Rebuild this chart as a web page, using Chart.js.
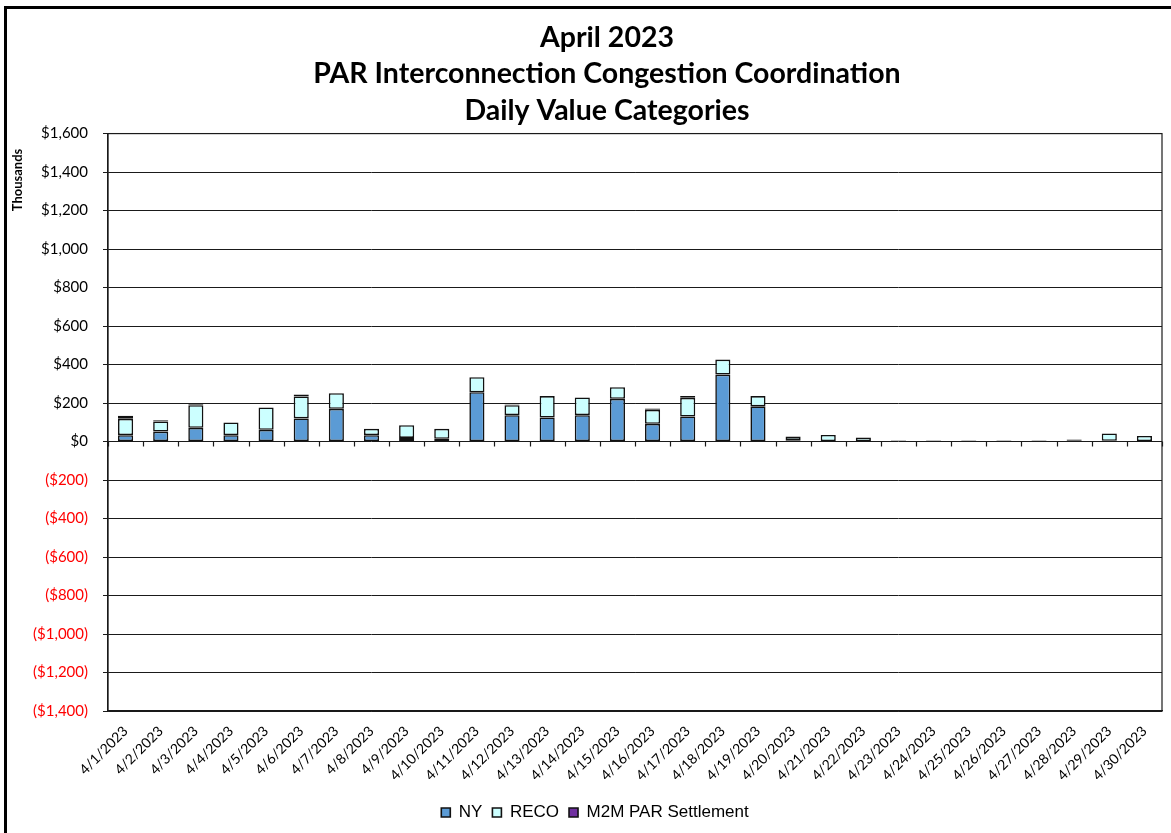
<!DOCTYPE html>
<html lang="en">
<head>
<meta charset="utf-8">
<title>PAR Interconnection Congestion Coordination - April 2023</title>
<script src="https://cdn.jsdelivr.net/npm/chart.js"></script>
<style>
    html, body { margin: 0; padding: 0; background: #fff; }
    #wrap { position: relative; width: 1171px; height: 833px; }
</style>
</head>
<body>
<div id="wrap"><canvas id="parChart" width="1171" height="833"></canvas></div>
<script>
    // daily values, $ thousands
    const days = ['4/1/2023', '4/2/2023', '4/3/2023', '4/4/2023', '4/5/2023', '4/6/2023', '4/7/2023', '4/8/2023',
        '4/9/2023', '4/10/2023', '4/11/2023', '4/12/2023', '4/13/2023', '4/14/2023', '4/15/2023', '4/16/2023',
        '4/17/2023', '4/18/2023', '4/19/2023', '4/20/2023', '4/21/2023', '4/22/2023', '4/23/2023', '4/24/2023',
        '4/25/2023', '4/26/2023', '4/27/2023', '4/28/2023', '4/29/2023', '4/30/2023'];
    const ny   = [33, 52, 71, 33, 61, 120, 170, 33, 19, 14, 256, 137, 125, 137, 222, 92, 130, 348, 183, 7, 2, 2, 3, 3, 3, 3, 3, 4, 4, 2];
    const reco = [85, 52, 118, 66, 116, 114, 81, 33, 66, 52, 78, 52, 111, 92, 60, 73, 97, 78, 53, 19, 32, 19, 3, 3, 3, 3, 3, 6, 38, 27];
    const m2m  = [16, 6, 5, 0, 0, 10, 0, 0, 0, 0, 0, 4, 0, 0, 0, 7, 9, 0, 0, 0, 0, 0, 0, 0, 0, 0, 0, 0, 0, 0];
    const yMin = -1400, yMax = 1600, yStep = 200;

    function money(v) {
        const s = '$' + Math.abs(v).toLocaleString('en-US');
        return v < 0 ? '(' + s + ')' : s;
    }

    // empty days get no segment at all (no stray border line)
    const noZero = arr => arr.map(v => (v === 0 ? null : v));

    // white page, outer frame, plot border, category marks on the zero line, axis caption
    const frame = {
        id: 'frame',
        afterLayout(chart) {
            // title sits a bit right of the legend
            const t = chart.titleBlock;
            if (t) { t.left += 24; t.width = t.right - t.left; }
        },
        beforeDraw(chart) {
            const c = chart.ctx;
            c.save();
            c.fillStyle = '#fff';
            c.fillRect(0, 0, chart.width, chart.height);
            c.restore();
        },
        afterDraw(chart) {
            const c = chart.ctx;
            const a = chart.chartArea;
            const x = chart.scales.x, y = chart.scales.y;
            c.save();
            c.strokeStyle = '#1a1a1a';
            c.lineWidth = 1.2;
            c.strokeRect(a.left, a.top, a.right - a.left, a.bottom - a.top);

            const y0 = y.getPixelForValue(0);
            c.beginPath();
            for (let i = 0; i <= days.length; i++) {
                const px = Math.round(x.getPixelForValue(i - 0.5)) + 0.5;
                c.moveTo(px, y0);
                c.lineTo(px, y0 + 5);
            }
            c.stroke();

            c.fillStyle = '#000';
            c.fillRect(4, 6, 3, chart.height);
            c.fillRect(4, 6, chart.width, 3);

            c.translate(18, 180);
            c.rotate(-Math.PI / 2);
            c.font = 'bold 13px Lato';
            c.textAlign = 'center';
            c.textBaseline = 'middle';
            c.fillText('Thousands', 0, 0);
            c.restore();
        }
    };

    const barStyle = {
        borderColor: '#111',
        borderWidth: 1.6,
        borderSkipped: false,
        barPercentage: 0.43,
        categoryPercentage: 1
    };

    new Chart(document.getElementById('parChart'), {
        type: 'bar',
        data: {
            labels: days,
            datasets: [
                Object.assign({ label: 'NY', data: noZero(ny), backgroundColor: '#5b9bd5' }, barStyle),
                Object.assign({ label: 'RECO', data: noZero(reco), backgroundColor: '#ccffff' }, barStyle),
                Object.assign({ label: 'M2M PAR Settlement', data: noZero(m2m), backgroundColor: '#7030a0' }, barStyle)
            ]
        },
        options: {
            responsive: false,
            animation: false,
            layout: { padding: { top: 11, left: 28, right: 9, bottom: 2 } },
            plugins: {
                title: {
                    display: true,
                    text: ['April 2023', 'PAR Interconnection Congestion Coordination', 'Daily Value Categories'],
                    color: '#000',
                    font: { family: 'Lato', size: 28.5, weight: 'bold', lineHeight: 1.27 },
                    padding: { top: 9, bottom: 5 }
                },
                legend: {
                    position: 'bottom',
                    onClick: null,
                    labels: {
                        color: '#000',
                        font: { family: 'Liberation Sans', size: 17 },
                        boxWidth: 9,
                        boxHeight: 9,
                        padding: 10
                    }
                },
                tooltip: { enabled: false }
            },
            scales: {
                x: {
                    stacked: true,
                    grid: { display: false },
                    border: { display: true, color: '#1a1a1a', width: 1.2 },
                    ticks: {
                        autoSkip: false,
                        maxRotation: 45,
                        minRotation: 45,
                        padding: 4,
                        color: '#000',
                        font: { family: 'Lato', size: 14 }
                    },
                    afterFit(scale) { scale.height = 83; }
                },
                y: {
                    stacked: true,
                    min: yMin,
                    max: yMax,
                    grid: { color: '#1a1a1a', lineWidth: 1, tickLength: 5 },
                    border: { display: true, color: '#1a1a1a', width: 1.2 },
                    ticks: {
                        stepSize: yStep,
                        padding: 15,
                        font: { family: 'Lato', size: 15 },
                        color: c => (c.tick && c.tick.value < 0 ? '#ff0000' : '#000'),
                        callback: v => money(v)
                    },
                    afterFit(scale) { scale.width = 80; }
                }
            }
        },
        plugins: [frame]
    });
</script>
</body>
</html>
